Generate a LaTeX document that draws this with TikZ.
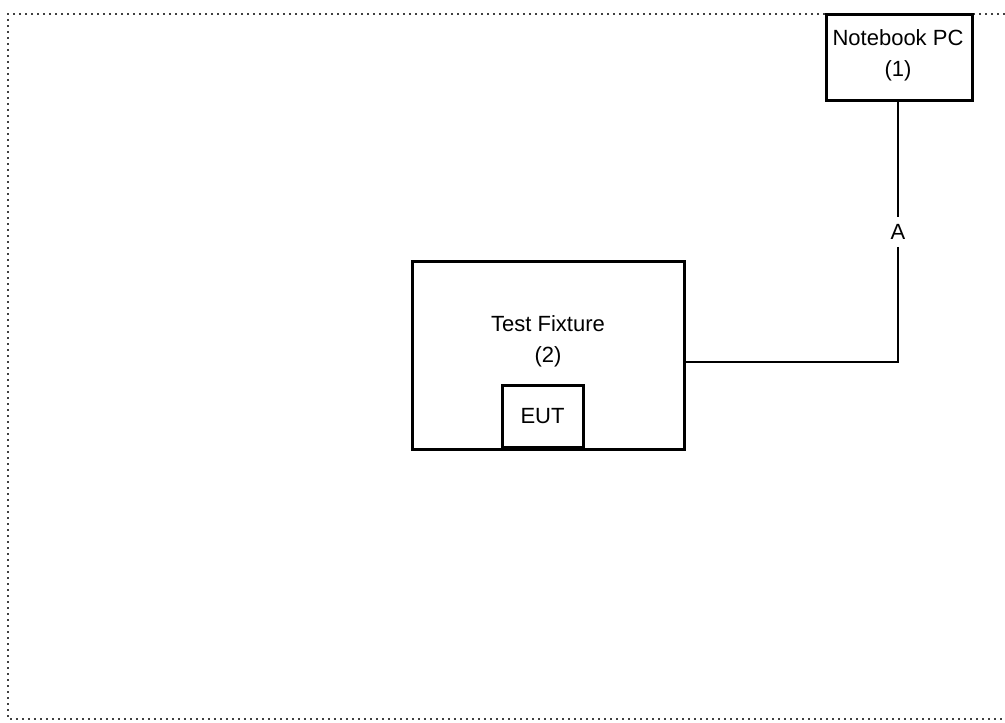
\documentclass[tikz,border=0pt]{standalone}
\usepackage{fontspec}
\setmainfont{Liberation Sans}
\begin{document}
\begin{tikzpicture}[x=1pt,y=-1pt,
  box/.style={draw=black,line width=3pt,fill=white,inner sep=0pt},
  wire/.style={draw=black,line width=2.4pt},
  lbl/.style={font=\fontsize{22}{31}\selectfont,align=center,text=black},
  frame/.style={draw=black!75,line width=2pt,dash pattern=on 2pt off 4pt}]
\useasboundingbox (0,0) rectangle (1005,723);
\draw[frame] (1005,14) -- (8,14) -- (8,719) -- (1005,719);
\node[box,minimum width=146pt,minimum height=86pt] (pc) at (899,57) {};
\node[lbl] (pct) at (898,55) {Notebook PC\\(1)};
\node[box,minimum width=272pt,minimum height=188pt] (tf) at (548,355) {};
\node[lbl] (tft) at (548,341) {Test Fixture\\(2)};
\node[box,minimum width=81pt,minimum height=62pt,anchor=south] (eut) at (542.5,449) {};
\node[lbl] (eutt) at (eut.center) {EUT};
\node[lbl,inner sep=0pt] (a) at (898,232) {A};
\coordinate (c) at (898,362);
\draw[wire] (pc.south -| a) -- ([yshift=7pt]a.north);
\draw[wire] ([yshift=-7pt]a.south) -- (c) -- (c -| tf.east);
\end{tikzpicture}
\end{document}
